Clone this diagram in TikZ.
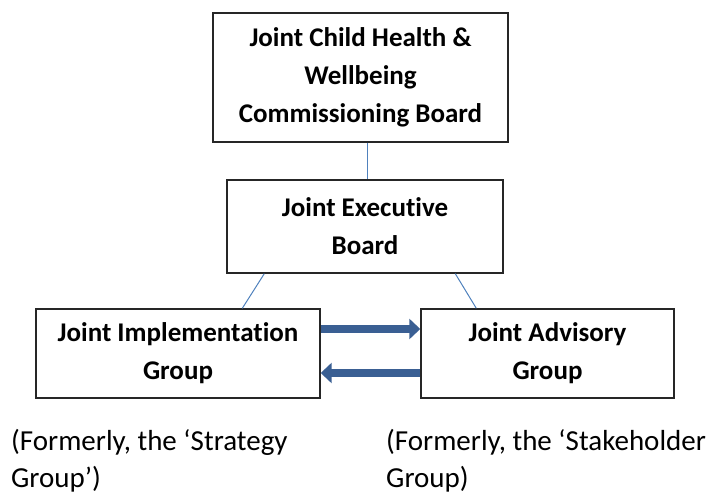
\documentclass[tikz,border=0pt]{standalone}
\usepackage{fontspec}
\setmainfont{Carlito}[Ligatures={NoCommon,TeX},RawFeature={-liga;-clig;-dlig;-calt}]
\usetikzlibrary{arrows.meta}
\definecolor{connblue}{HTML}{4F81BD}
\definecolor{arrowblue}{HTML}{3A5F93}
\begin{document}
\begin{tikzpicture}[x=1pt,y=-1pt,
  box/.style={draw=black!85,line width=1.4pt,align=center,inner sep=0pt,
    font=\bfseries\fontsize{27}{38}\selectfont},
  conn/.style={draw=connblue,line width=1pt},
  flow/.style={draw=arrowblue,line width=8pt,-{Triangle[length=11pt,width=20pt]}},
  note/.style={align=left,anchor=north west,inner sep=0pt,
    font=\fontsize{29}{37}\selectfont}]
\useasboundingbox (0,0) rectangle (716,495);
\node[box,minimum width=295pt,minimum height=129pt] (top) at (360.5,77.5)
  {Joint Child Health \&\\Wellbeing\\Commissioning Board};
\node[box,minimum width=276pt,minimum height=93pt] (mid) at (365,226.5)
  {Joint Executive\\Board};
\node[box,minimum width=284pt,minimum height=89pt] (left) at (178,353.5)
  {Joint Implementation\\Group};
\node[box,minimum width=253pt,minimum height=89pt] (right) at (547.5,353.5)
  {Joint Advisory\\Group};
\draw[conn] ([xshift=6.5pt]top.south) -- ([xshift=2pt]mid.north);
\draw[conn] ([xshift=38pt]mid.south west) -- ([xshift=207pt]left.north west);
\draw[conn] ([xshift=229pt]mid.south west) -- ([xshift=56pt]right.north west);
\draw[flow] ([yshift=24.5pt]left.east) -- ([yshift=24.5pt]right.west);
\draw[flow] ([yshift=-19.5pt]right.west) -- ([yshift=-19.5pt]left.east);
\node[note] (n1) at (11,429) {(Formerly, the ‘Strategy\\Group’)};
\node[note] (n2) at (386,429) {(Formerly, the ‘Stakeholder\\Group)};
\end{tikzpicture}
\end{document}
